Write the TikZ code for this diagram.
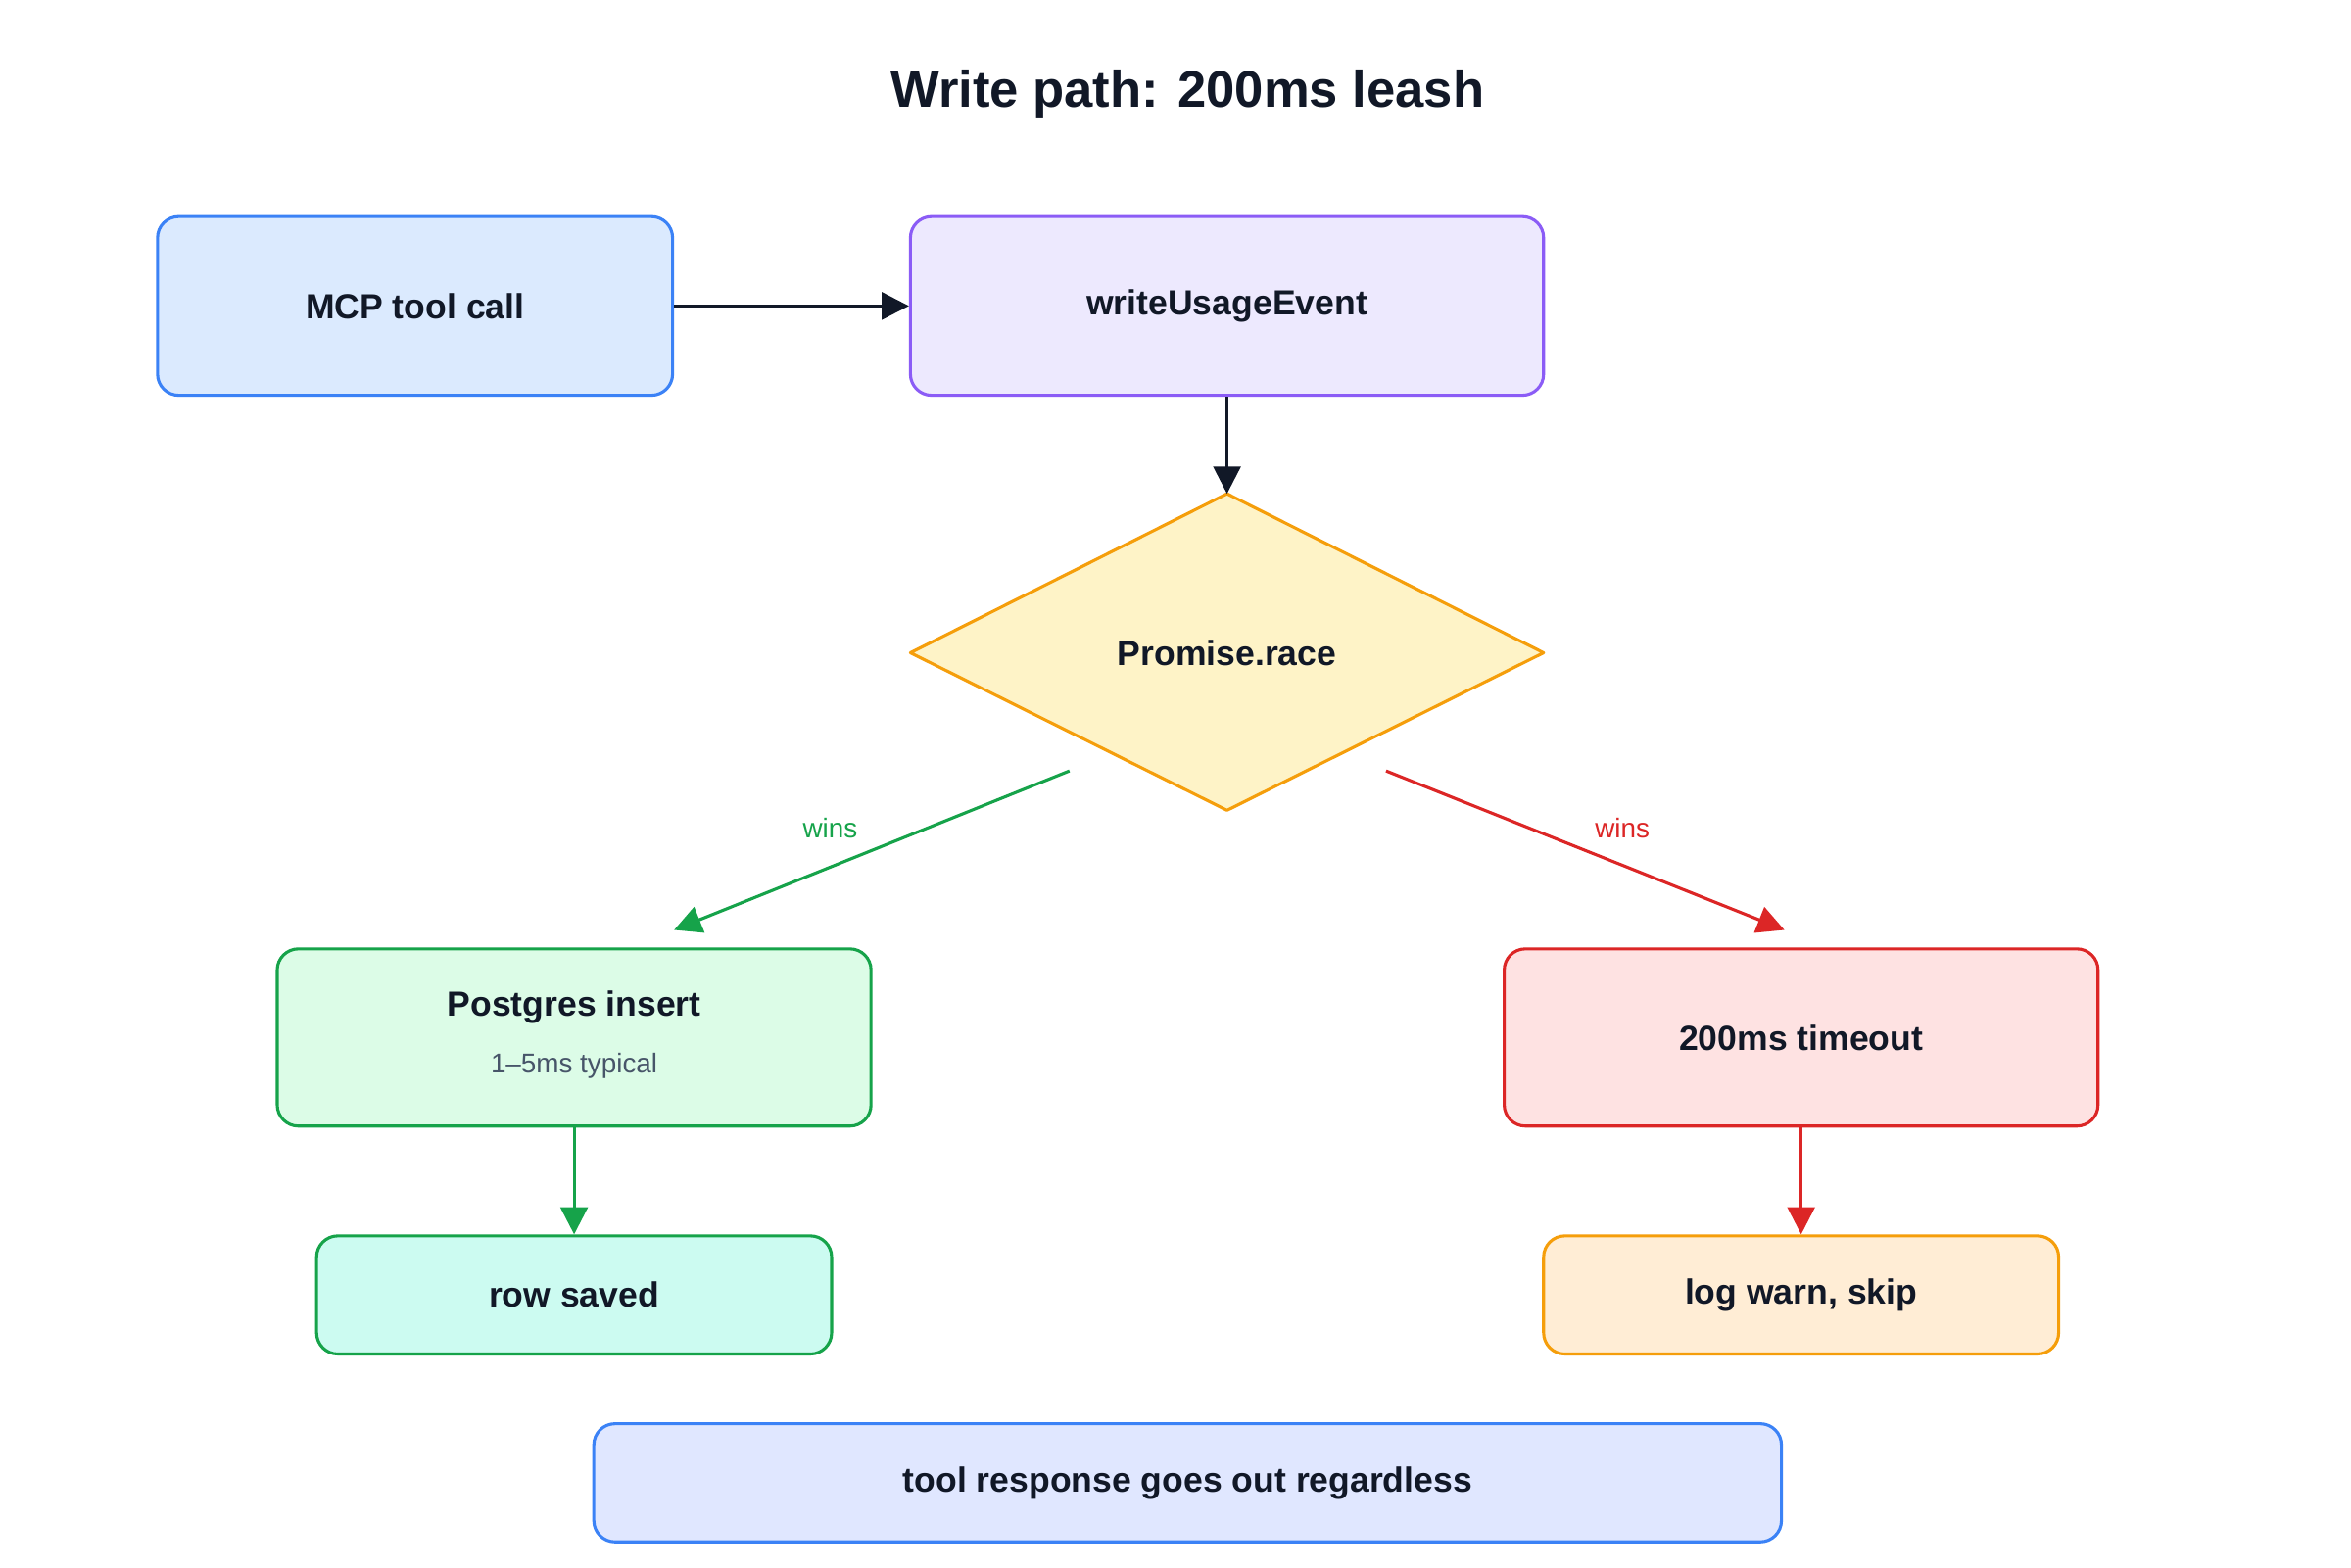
\documentclass[tikz,border=0pt]{standalone}
\usepackage{fontspec}
\setmainfont{Liberation Sans}
\usetikzlibrary{arrows.meta}
\definecolor{txt}{HTML}{111827}
\definecolor{bB}{HTML}{3B82F6}\definecolor{fB}{HTML}{DBEAFE}
\definecolor{bP}{HTML}{8B5CF6}\definecolor{fP}{HTML}{EDE9FE}
\definecolor{bY}{HTML}{F59E0B}\definecolor{fY}{HTML}{FEF3C7}
\definecolor{bG}{HTML}{16A34A}\definecolor{fG}{HTML}{DCFCE7}
\definecolor{bR}{HTML}{DC2626}\definecolor{fR}{HTML}{FEE2E2}
\definecolor{fT}{HTML}{CCFBF1}\definecolor{fO}{HTML}{FFEDD5}
\definecolor{fI}{HTML}{E0E7FF}\definecolor{sub}{HTML}{475569}
\begin{document}
\begin{tikzpicture}[x=0.5pt,y=-0.5pt,
 box/.style={draw=#1,line width=1pt,rounded corners=7pt,minimum height=59pt,font=\bfseries\fontsize{11.5}{14}\selectfont,text=txt,align=center,inner sep=0pt},
 arr/.style={line width=1pt,draw=#1,-{Triangle[length=9pt,width=9pt]},fill=#1}]
\useasboundingbox[fill=white] (0,0) rectangle (1552,1035);
\node[font=\bfseries\fontsize{17}{20}\selectfont,text=txt] (title) at (784,62) {Write path: 200ms leash};
\node[box=bB,fill=fB,minimum width=170pt] (mcp) at (274,202) {MCP tool call};
\node[box=bP,fill=fP,minimum width=209pt] (wue) at (810,202) {writeUsageEvent};
\draw[draw=bY,fill=fY,line width=1pt,line join=round] (601,431) -- (810,326) -- (1019,431) -- (810,535) -- cycle;
\node[font=\bfseries\fontsize{11.5}{14}\selectfont,text=txt] (race) at (810,431) {Promise.race};
\coordinate (rtop) at (810,326);
\coordinate (rl) at (706,509);
\coordinate (rr) at (915,509);
\node[box=bG,fill=fG,minimum width=196pt,minimum height=58.5pt] (pg) at (379,685) {};
\node[font=\bfseries\fontsize{11.5}{14}\selectfont,text=txt] (pgt) at (379,665) {Postgres insert};
\node[font=\fontsize{9}{11}\selectfont,text=sub] (pgs) at (379,704) {1–5ms typical};
\node[box=bR,fill=fR,minimum width=196pt,minimum height=58.5pt] (to) at (1189,685) {200ms timeout};
\node[box=bG,fill=fT,minimum width=170pt,minimum height=39pt] (row) at (379,855) {row saved};
\node[box=bY,fill=fO,minimum width=170pt,minimum height=39pt] (log) at (1189,855) {log warn, skip};
\node[box=bB,fill=fI,minimum width=392pt,minimum height=39pt] (resp) at (784,979) {tool response goes out regardless};
\draw[arr=txt] (mcp.east) -- (wue.west);
\draw[arr=txt] (wue.south) -- (rtop);
\draw[arr=bG] (rl) -- (445,614) coordinate (gl);
\draw[arr=bR] (rr) -- (1178,614) coordinate (rd);
\node[text=bG,font=\fontsize{9}{11}\selectfont] (w1) at (548,547) {wins};
\node[text=bR,font=\fontsize{9}{11}\selectfont] (w2) at (1071,547) {wins};
\draw[arr=bG] (pg.south) -- (row.north);
\draw[arr=bR] (to.south) -- (log.north);
\end{tikzpicture}
\end{document}
